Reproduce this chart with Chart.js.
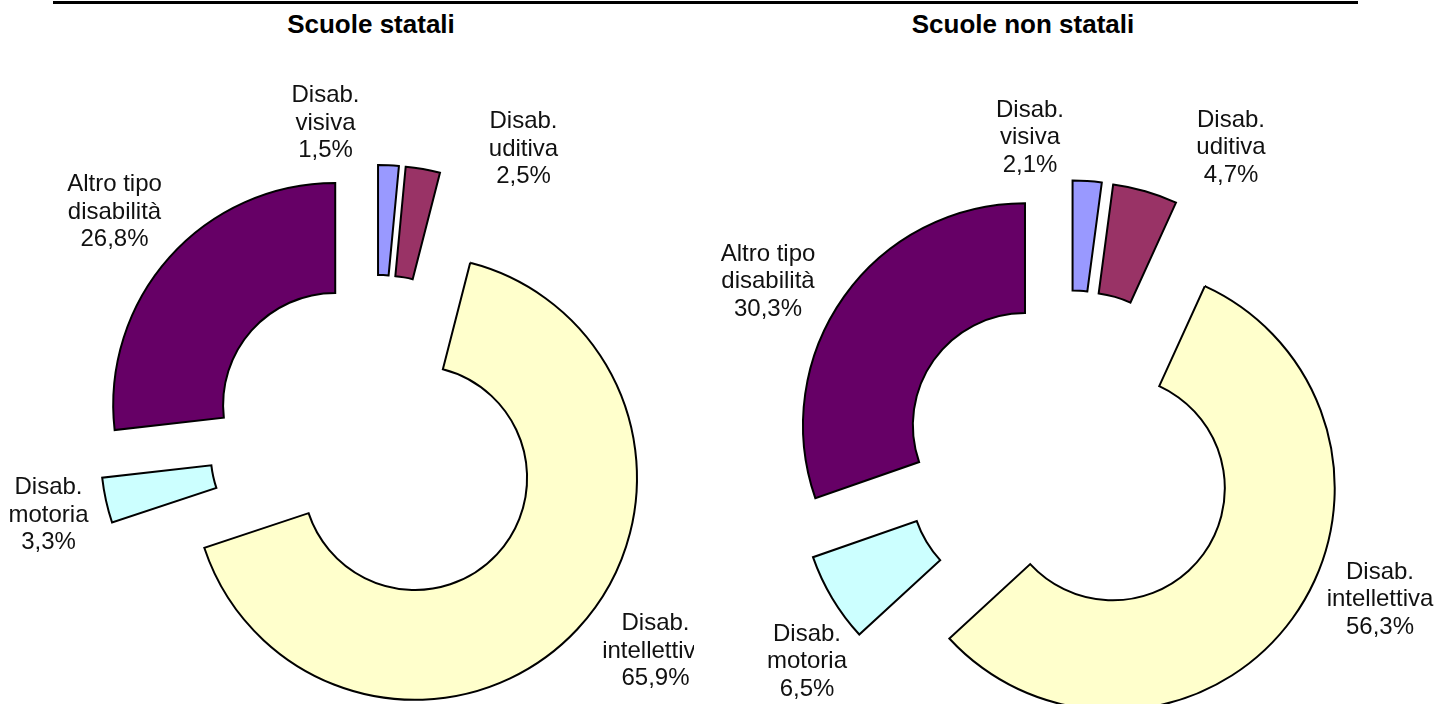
<!DOCTYPE html>
<html lang="it">
<head>
<meta charset="utf-8">
<title>Alunni con disabilità per tipo</title>
<script src="https://cdn.jsdelivr.net/npm/chart.js@4/dist/chart.umd.min.js"></script>
<style>
  body { margin: 0; background: #fff; width: 1450px; height: 704px; position: relative; overflow: hidden; }
  #linea { position: absolute; left: 53px; top: 1px; width: 1305px; height: 3px; background: #000; }
  .titolo {
    position: absolute; top: 11px; width: 300px; text-align: center;
    font: bold 26px "Liberation Sans", Arial, sans-serif; line-height: 26px; color: #000;
  }
  canvas { position: absolute; top: 40px; }
</style>
</head>
<body>
<div id="linea"></div>
<div class="titolo" id="titoloStatali" style="left:221px"></div>
<div class="titolo" id="titoloNonStatali" style="left:873px"></div>
<canvas id="graficoStatali" width="694" height="664" style="left:0"></canvas>
<canvas id="graficoNonStatali" width="750" height="664" style="left:700px"></canvas>

<script>
// ------------------------
// Dati
// ------------------------

const titoli = ['Scuole statali', 'Scuole non statali'];

const categorie = [
  ['Disab.', 'visiva'],
  ['Disab.', 'uditiva'],
  ['Disab.', 'intellettiva'],
  ['Disab.', 'motoria'],
  ['Altro tipo', 'disabilità']
];

const valoriStatali = [1.5, 2.5, 65.9, 3.3, 26.8];
const valoriNonStatali = [2.1, 4.7, 56.3, 6.5, 30.3];

const colori = ['#9999FF', '#993366', '#FFFFCC', '#CCFFFF', '#660066'];

// posizione delle etichette rispetto al centro (centro x, prima riga)
const posStatali = [[-50, -339], [148, -313], [280, 189], [-327, 53], [-261, -250]];
const posNonStatali = [[-39, -340], [162, -330], [311, 122], [-262, 184], [-301, -196]];

// distacco delle fette dal centro (px)
const ESPLOSIONE = 54;

// ------------------------
// Fette staccate: sposta ogni arco lungo la sua bisettrice
// ------------------------

const ArcoBase = Chart.ArcElement || Chart.elements.ArcElement;
const disegnaArco = ArcoBase.prototype.draw;
ArcoBase.prototype.draw = function (ctx, area) {
  const meta = (this.startAngle + this.endAngle) / 2;
  ctx.save();
  ctx.translate(Math.cos(meta) * ESPLOSIONE, Math.sin(meta) * ESPLOSIONE);
  disegnaArco.call(this, ctx, area);
  ctx.restore();
};

function formatoPerc(v) {
  return v.toLocaleString('it-IT', { minimumFractionDigits: 1, maximumFractionDigits: 1 }) + '%';
}

// etichette di testo attorno alla ciambella
const pluginEtichette = {
  id: 'etichette',
  afterDatasetsDraw(chart, args, opts) {
    const ctx = chart.ctx;
    const arcs = chart.getDatasetMeta(0).data;
    if (!arcs.length) return;
    const cx = arcs[0].x;
    const cy = arcs[0].y;
    const valori = chart.data.datasets[0].data;

    ctx.save();
    ctx.font = '24px "Liberation Sans", Arial, sans-serif';
    ctx.fillStyle = '#111';
    ctx.textAlign = 'center';
    ctx.textBaseline = 'alphabetic';
    chart.data.labels.forEach((righe, i) => {
      const [dx, dy] = opts.posizioni[i];
      const testo = righe.concat([formatoPerc(valori[i])]);
      testo.forEach((r, k) => {
        ctx.fillText(r, cx + dx, cy + dy + k * 27.5);
      });
    });
    ctx.restore();
  }
};

function creaGrafico(idCanvas, valori, padding, posizioni) {
  const ctx = document.getElementById(idCanvas).getContext('2d');
  return new Chart(ctx, {
    type: 'doughnut',
    data: {
      labels: categorie,
      datasets: [{
        data: valori,
        backgroundColor: colori,
        borderColor: '#000',
        borderWidth: 2,
        borderJoinStyle: 'miter',
        clip: false
      }]
    },
    options: {
      responsive: false,
      animation: false,
      radius: 222,
      cutout: '50.5%',
      layout: { padding },
      events: [],
      plugins: {
        legend: { display: false },
        tooltip: { enabled: false },
        etichette: { posizioni }
      }
    },
    plugins: [pluginEtichette]
  });
}

// ------------------------
// Inizializzazione
// ------------------------

document.getElementById('titoloStatali').textContent = titoli[0];
document.getElementById('titoloNonStatali').textContent = titoli[1];

creaGrafico('graficoStatali', valoriStatali, { left: 57, right: 0, top: 138, bottom: 0 }, posStatali);
creaGrafico('graficoNonStatali', valoriNonStatali, { left: 0, right: 12, top: 169, bottom: 0 }, posNonStatali);
</script>
</body>
</html>
